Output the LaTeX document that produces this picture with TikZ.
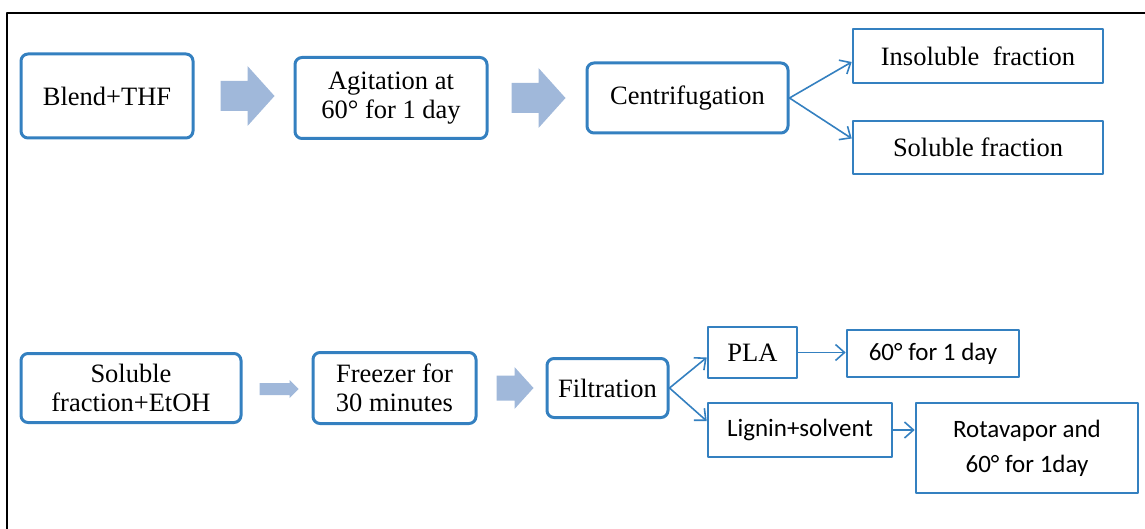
\documentclass[tikz,border=0pt]{standalone}
\usepackage{fontspec}
\setmainfont{Liberation Serif}
\newfontfamily\calibfont{Carlito}
\usetikzlibrary{arrows.meta,calc}

\definecolor{boxblue}{RGB}{52,128,192}
\definecolor{arrowfill}{RGB}{160,184,218}

% block arrow: start, shaft length, shaft half width, head length, head half width
\newcommand{\blockarrow}[5]{%
  \fill[arrowfill] (#1) ++(0,-#3) -- ++(#2,0) -- ++(0,#3-#5) -- ++(#4,#5)
    -- ++(-#4,#5) -- ++(0,#3-#5) -- ++(-#2,0) -- cycle;
}

\begin{document}
\begin{tikzpicture}[x=1pt, y=-1pt, line cap=round, line join=round,
  roundbox/.style={draw=boxblue, line width=3pt, rounded corners=7pt,
    align=center, inner sep=0pt, font=\fontsize{26.5}{29}\selectfont},
  flatbox/.style={draw=boxblue, line width=2.6pt, align=center, inner sep=0pt},
  serif/.style={font=\fontsize{26.5}{29}\selectfont},
  sans/.style={font=\calibfont\fontsize{25}{35}\selectfont},
  link/.style={draw=boxblue, line width=1.6pt, -{Straight Barb[length=9pt,width=16pt]}}]

% ----------------------------
% PARAMETERS
% ----------------------------
\def\rowA{98}    % top row
\def\rowB{388}   % bottom row

\useasboundingbox (0,0) rectangle (1145,529);

% ----------------------------
% FRAME
% ----------------------------
\draw[line width=2pt] (7,529) -- (7,13) -- (1145,13);

% ----------------------------
% TOP ROW
% ----------------------------
\node[roundbox, minimum width=172pt, minimum height=84pt] (blend) at (107,96) {Blend+THF};
\node[roundbox, minimum width=192pt, minimum height=81pt] (agit) at (391,\rowA) {Agitation at\\60° for 1 day};
\node[roundbox, minimum width=201pt, minimum height=70pt] (centr) at (687.5,\rowA) {Centrifugation};

\node[flatbox, serif, minimum width=250pt, minimum height=54pt] (insol) at (978,56) {Insoluble\ \ fraction};
\node[flatbox, serif, minimum width=250pt, minimum height=53pt] (sol) at (978,147.5) {Soluble fraction};

% ----------------------------
% BOTTOM ROW
% ----------------------------
\node[roundbox, minimum width=220pt, minimum height=69pt] (solEt) at (131,\rowB) {Soluble\\fraction+EtOH};
\node[roundbox, minimum width=163pt, minimum height=71pt] (freez) at (394.5,\rowB) {Freezer for\\30 minutes};
\node[roundbox, minimum width=121pt, minimum height=59pt] (filt) at (607.5,\rowB) {Filtration};

\node[flatbox, serif, minimum width=89pt, minimum height=51pt] (pla) at (752.5,352.5) {PLA};
\node[flatbox, sans, minimum width=172pt, minimum height=47pt] (dayA) at (933,353.5) {60° for 1 day};
\node[flatbox, sans, minimum width=184pt, minimum height=54pt] (lign) at (800,430) {Lignin+solvent};
\node[flatbox, sans, minimum width=222pt, minimum height=90pt] (rota) at (1027,448) {Rotavapor and\\60° for 1day};

% ----------------------------
% BLOCK ARROWS
% ----------------------------
\coordinate (ba1) at ($(blend.east)+(26,0)$);
\coordinate (ba2) at ($(agit.east)+(23,0)$);
\coordinate (ba3) at ($(solEt.east)+(17,1)$);
\coordinate (ba4) at ($(freez.east)+(19,0)$);
\blockarrow{ba1}{27}{15}{27}{30}
\blockarrow{ba2}{27}{15}{27}{30}
\blockarrow{ba3}{30}{6}{9}{9}
\blockarrow{ba4}{18}{12.5}{19}{21}

% ----------------------------
% CONNECTORS
% ----------------------------
\draw[link] (centr.east) -- ($(insol.west)+(0,6)$);
\draw[link] (centr.east) -- ($(sol.west)+(0,-9)$);
\draw[link] (filt.east) -- ($(pla.west)+(0,5)$);
\draw[link] (filt.east) -- ($(lign.west)+(0,-9)$);
\draw[link] (pla.east) -- (pla.east -| dayA.west);
\draw[link] (lign.east) -- (lign.east -| rota.west);

\end{tikzpicture}
\end{document}
